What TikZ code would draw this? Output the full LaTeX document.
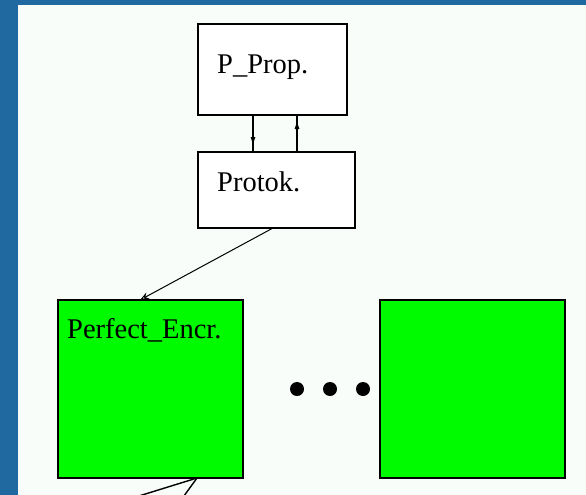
\documentclass[tikz,border=0pt]{standalone}
\usepackage{fontspec}
\setmainfont{Liberation Serif}
\usetikzlibrary{arrows.meta}
\definecolor{frameblue}{RGB}{31,104,160}
\definecolor{paper}{RGB}{248,253,250}
\definecolor{procgreen}{RGB}{0,250,0}
\begin{document}
\begin{tikzpicture}[x=1pt,y=-1pt,
  box/.style={draw=black,line width=1.3pt},
  greenbox/.style={box,fill=procgreen},
  lbl/.style={anchor=base west,inner sep=0pt,font=\fontsize{28.5}{30}\selectfont},
  link/.style={draw=black,line width=1.4pt},
  dot/.style={circle,fill=black,inner sep=0pt,minimum size=14pt}]
\useasboundingbox (0,0) rectangle (586,495);
\clip (0,0) rectangle (586,495);
% frame and panel
\fill[frameblue] (0,0) rectangle (586,495);
\fill[paper] (18,5) rectangle (590,500);
% boxes
\draw[box,fill=white] (198,24) rectangle (347,115);
\draw[box,fill=white] (198,152) rectangle (355,228);
\draw[greenbox] (58,300) rectangle (243,478);
\draw[greenbox] (380,300) rectangle (565,478);
% labels
\node[lbl] (tprop) at (217,74) {P\_Prop.};
\node[lbl] (tprot) at (217,191) {Protok.};
\node[lbl] (tenc) at (67,338) {Perfect\_Encr.};
% connections between P_Prop. and Protok.
\coordinate (a1) at (253,115);
\coordinate (a2) at (253,152);
\coordinate (a1m) at (253,146);
\coordinate (b1) at (297,152);
\coordinate (b2) at (297,115);
\coordinate (b2m) at (297,120);
\draw[link] (a1) -- (a2);
\draw[link] (b1) -- (b2);
\draw[link,-{Latex[length=9pt,width=5pt]}] (a1) -- (a1m);
\draw[link,-{Latex[length=9pt,width=5pt]}] (b1) -- (b2m);
% Protok. to Perfect_Encr.
\coordinate (p1) at (273,228);
\coordinate (p2) at (140,300);
\draw[draw=black,line width=1pt,-{Stealth[length=9pt,width=7pt,open]}] (p1) -- (p2);
% ellipsis between processes
\node[dot] (d1) at (297,389) {};
\node[dot] (d2) at (330,389) {};
\node[dot] (d3) at (363,389) {};
% lines leaving below
\coordinate (c0) at (197,478);
\coordinate (c1) at (126,500);
\coordinate (c2) at (181,500);
\draw[link] (c0) -- (c1);
\draw[link] (c0) -- (c2);
\end{tikzpicture}
\end{document}
